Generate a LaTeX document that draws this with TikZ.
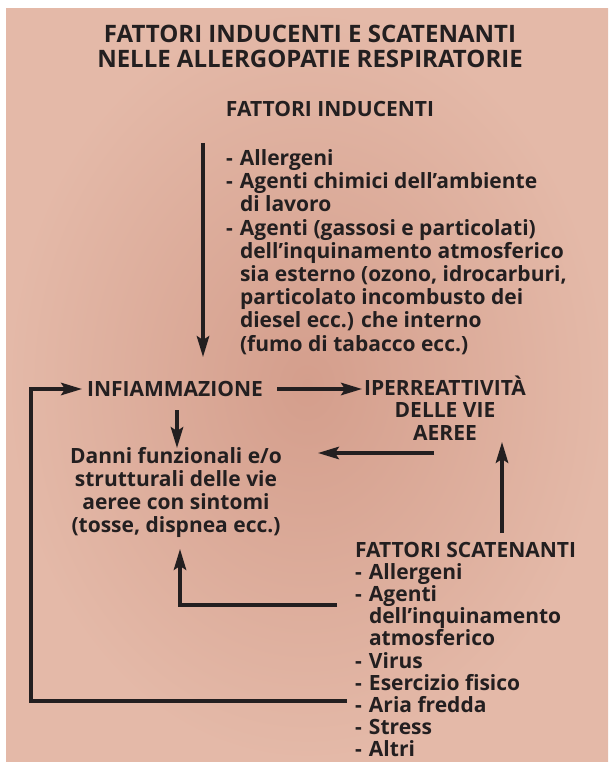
\documentclass[tikz,border=0pt]{standalone}
\usepackage{fontspec}
\setmainfont{Open Sans}
\usetikzlibrary{arrows.meta}
\definecolor{ink}{RGB}{35,31,32}
\definecolor{pinkin}{RGB}{212,158,140}
\definecolor{pinkout}{RGB}{228,185,168}
\newcommand\ctrblock[1]{\vtop{\halign{\hfil##\hfil\cr#1\crcr}}}
\newcommand\lftblock[1]{\vtop{\halign{##\hfil\cr#1\crcr}}}
\newcommand\dashitem{\makebox[14pt][l]{-}}
\newcommand\contitem{\hspace*{14pt}}
\tikzset{
  txt/.style={inner sep=0pt, outer sep=0pt, text=ink, font=\bfseries\fontsize{21}{23.2}\selectfont},
  ttl/.style={inner sep=0pt, outer sep=0pt, text=ink, font=\bfseries\fontsize{24}{25}\selectfont},
  arr/.style={draw=ink, line width=3.2pt, line join=miter, -{Stealth[length=21pt,width=12.5pt,inset=4pt]}},
}
\begin{document}
\begin{tikzpicture}[x=1pt,y=-1pt]
\useasboundingbox (0,0) rectangle (608,762);
\fill[white] (0,0) rectangle (608,762);
\shade[inner color=pinkin, outer color=pinkout] (6,9) rectangle (608,762);

% texts
\node[ttl, anchor=base] (title) at (310,43) {\ctrblock{FATTORI INDUCENTI E SCATENANTI\cr NELLE ALLERGOPATIE RESPIRATORIE}};
\node[txt, anchor=base] (indhead) at (330,117) {FATTORI INDUCENTI};
\node[txt, anchor=base west] (indlist) at (226,165.5) {\lftblock{%
\dashitem Allergeni\cr
\dashitem Agenti chimici dell’ambiente\cr
\contitem di lavoro\cr
\dashitem Agenti (gassosi e particolati)\cr
\contitem dell’inquinamento atmosferico\cr
\contitem sia esterno (ozono, idrocarburi,\cr
\contitem particolato incombusto dei\cr
\contitem diesel ecc.) che interno\cr
\contitem (fumo di tabacco ecc.)}};
\node[txt, anchor=base] (infl) at (175,396) {INFIAMMAZIONE};
\node[txt, anchor=base, font=\bfseries\fontsize{21}{22.5}\selectfont] (iper) at (445,395) {\ctrblock{IPERREATTIVITÀ\cr DELLE VIE\cr AEREE}};
\node[txt, anchor=base, font=\bfseries\fontsize{21}{23.3}\selectfont] (danni) at (176,463) {\ctrblock{Danni funzionali e/o\cr strutturali delle vie\cr aeree con sintomi\cr (tosse, dispnea ecc.)}};
\node[txt, anchor=base west, font=\bfseries\fontsize{21}{22.2}\selectfont] (scat) at (355,557) {\lftblock{%
FATTORI SCATENANTI\cr
\dashitem Allergeni\cr
\dashitem Agenti\cr
\contitem dell’inquinamento\cr
\contitem atmosferico\cr
\dashitem Virus\cr
\dashitem Esercizio fisico\cr
\dashitem Aria fredda\cr
\dashitem Stress\cr
\dashitem Altri}};

% connector end points
\coordinate (indtop) at (203,143);
\coordinate (inflin) at (82,389);
\coordinate (loopa) at (31,389);
\coordinate (loopb) at (31,701);
\coordinate (scatout1) at (347,701);
\coordinate (inflout) at (277,389);
\coordinate (iperin) at (362,389);
\coordinate (inflbot) at (177,410);
\coordinate (dannitop) at (177,448);
\coordinate (iperout) at (434,453);
\coordinate (danniright) at (318,453);
\coordinate (scatup) at (502,533);
\coordinate (iperbot) at (502,442);
\coordinate (scatout2) at (337,605);
\coordinate (corner2) at (180,605);
\coordinate (dannibot) at (180,549);
\coordinate (indend) at (203,357);

% connectors
\draw[arr] (indtop) -- (indend);
\draw[arr] (scatout1) -- (loopb) -- (loopa) -- (inflin);
\draw[arr] (inflout) -- (iperin);
\draw[arr] (inflbot) -- (dannitop);
\draw[arr] (iperout) -- (danniright);
\draw[arr] (scatup) -- (iperbot);
\draw[arr] (scatout2) -- (corner2) -- (dannibot);
\end{tikzpicture}
\end{document}
